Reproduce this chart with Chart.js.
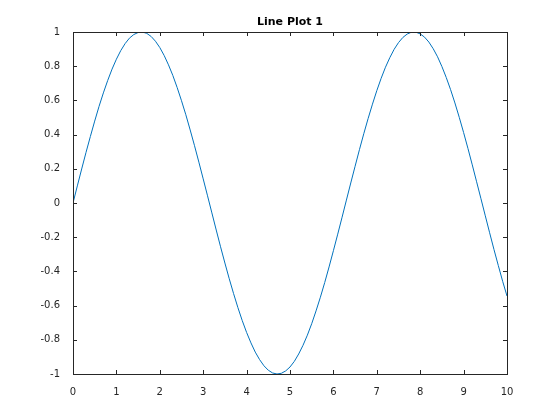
<!DOCTYPE html>
<html>
<head>
<meta charset="utf-8">
<script src="https://cdn.jsdelivr.net/npm/chart.js@4"></script>
<style>
  html, body { margin: 0; padding: 0; background: #fff; }
  canvas { display: block; }
</style>
</head>
<body>
<canvas id="linePlot" width="560" height="420"></canvas>
<script>
const chartTitle = 'Line Plot 1';
const xValues = [
  0, 0.1, 0.2, 0.3, 0.4, 0.5, 0.6, 0.7, 0.8, 0.9,
  1, 1.1, 1.2, 1.3, 1.4, 1.5, 1.6, 1.7, 1.8, 1.9,
  2, 2.1, 2.2, 2.3, 2.4, 2.5, 2.6, 2.7, 2.8, 2.9,
  3, 3.1, 3.2, 3.3, 3.4, 3.5, 3.6, 3.7, 3.8, 3.9,
  4, 4.1, 4.2, 4.3, 4.4, 4.5, 4.6, 4.7, 4.8, 4.9,
  5, 5.1, 5.2, 5.3, 5.4, 5.5, 5.6, 5.7, 5.8, 5.9,
  6, 6.1, 6.2, 6.3, 6.4, 6.5, 6.6, 6.7, 6.8, 6.9,
  7, 7.1, 7.2, 7.3, 7.4, 7.5, 7.6, 7.7, 7.8, 7.9,
  8, 8.1, 8.2, 8.3, 8.4, 8.5, 8.6, 8.7, 8.8, 8.9,
  9, 9.1, 9.2, 9.3, 9.4, 9.5, 9.6, 9.7, 9.8, 9.9,
  10
];
const yValues = [
  0, 0.100, 0.199, 0.296, 0.389, 0.479, 0.565, 0.644, 0.717, 0.783,
  0.841, 0.891, 0.932, 0.964, 0.985, 0.997, 1.000, 0.992, 0.974, 0.946,
  0.909, 0.863, 0.808, 0.746, 0.675, 0.598, 0.516, 0.427, 0.335, 0.239,
  0.141, 0.042, -0.058, -0.158, -0.256, -0.351, -0.443, -0.530, -0.612, -0.688,
  -0.757, -0.818, -0.872, -0.916, -0.952, -0.978, -0.994, -1.000, -0.996, -0.982,
  -0.959, -0.926, -0.883, -0.832, -0.773, -0.706, -0.631, -0.551, -0.465, -0.374,
  -0.279, -0.182, -0.083, 0.017, 0.117, 0.215, 0.312, 0.405, 0.494, 0.578,
  0.657, 0.729, 0.794, 0.850, 0.899, 0.938, 0.968, 0.988, 0.999, 0.999,
  0.989, 0.970, 0.941, 0.902, 0.855, 0.798, 0.734, 0.663, 0.585, 0.501,
  0.412, 0.319, 0.223, 0.124, 0.025, -0.075, -0.174, -0.272, -0.366, -0.458,
  -0.544
];
const xRange = [0, 10];
const yRange = [-1, 1];

const axisColor = '#262626';
const fontFamily = '"DejaVu Sans", sans-serif';

// box around the axes with inward ticks, matlab style
const boxPlugin = {
  id: 'axesBox',
  afterDraw(chart) {
    const { ctx, chartArea: a, scales } = chart;
    const tickLen = 4;
    ctx.save();
    ctx.strokeStyle = axisColor;
    ctx.lineWidth = 1;
    ctx.beginPath();
    scales.x.ticks.forEach(t => {
      const px = Math.round(scales.x.getPixelForValue(t.value)) + 0.5;
      ctx.moveTo(px, a.bottom); ctx.lineTo(px, a.bottom - tickLen);
      ctx.moveTo(px, a.top); ctx.lineTo(px, a.top + tickLen);
    });
    scales.y.ticks.forEach(t => {
      const py = Math.round(scales.y.getPixelForValue(t.value)) + 0.5;
      ctx.moveTo(a.left, py); ctx.lineTo(a.left + tickLen, py);
      ctx.moveTo(a.right, py); ctx.lineTo(a.right - tickLen, py);
    });
    ctx.stroke();
    ctx.strokeRect(Math.round(a.left) + 0.5, Math.round(a.top) + 0.5,
      Math.round(a.right - a.left), Math.round(a.bottom - a.top));
    ctx.fillStyle = '#000';
    ctx.font = 'bold 11px ' + fontFamily;
    ctx.textAlign = 'center';
    ctx.textBaseline = 'middle';
    ctx.fillText(chartTitle, (a.left + a.right) / 2, 22);
    ctx.restore();
  }
};

const ctx = document.getElementById('linePlot').getContext('2d');

new Chart(ctx, {
  type: 'line',
  data: {
    datasets: [{
      data: xValues.map((x, i) => ({ x: x, y: yValues[i] })),
      borderColor: '#0072BD',
      borderWidth: 1,
      pointRadius: 0,
      tension: 0,
      fill: false
    }]
  },
  options: {
    responsive: false,
    animation: false,
    layout: { padding: { top: 32, right: 53, left: 0, bottom: 0 } },
    plugins: {
      legend: { display: false },
      tooltip: { enabled: false }
    },
    scales: {
      x: {
        type: 'linear',
        min: xRange[0],
        max: xRange[1],
        grid: { display: false },
        border: { display: false },
        ticks: { stepSize: 1, color: axisColor, padding: 4, font: { family: fontFamily, size: 10 } },
        afterFit(scale) { scale.height = 46; }
      },
      y: {
        min: yRange[0],
        max: yRange[1],
        grid: { display: false },
        border: { display: false },
        ticks: {
          stepSize: 0.2,
          color: axisColor,
          padding: 5,
          font: { family: fontFamily, size: 10 },
          callback: value => String(Number(value.toFixed(1)))
        },
        afterFit(scale) { scale.width = 73; }
      }
    }
  },
  plugins: [boxPlugin]
});
</script>
</body>
</html>
